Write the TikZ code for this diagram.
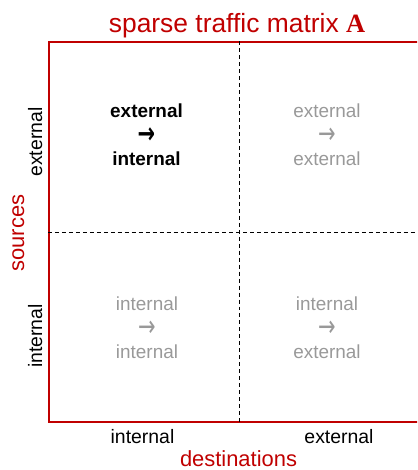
\documentclass[tikz,border=0pt]{standalone}
\usepackage{fontspec}
\usepackage{graphicx}
\setmainfont{Liberation Sans}
\newfontfamily\timesfont{Liberation Serif}
\newfontfamily\arrowfont{DejaVu Sans}
\definecolor{matred}{RGB}{192,0,0}
\definecolor{faded}{RGB}{153,153,153}
\newcommand{\goesto}{\raisebox{-2pt}{\scalebox{1}[1.4]{\arrowfont\fontsize{21}{24}\selectfont →}}}
\tikzstyle{frame}=[
    draw=matred,line width=2pt,inner sep=0pt,
    minimum width=380bp,minimum height=379bp]
\tikzstyle{divider}=[draw=black,line width=0.8pt,dash pattern=on 4pt off 3pt]
\tikzstyle{cell}=[align=center,inner sep=0pt,font=\fontsize{19}{24}\selectfont]
\tikzstyle{live}=[cell,font=\fontsize{19}{24}\selectfont\bfseries]
\tikzstyle{dead}=[cell,text=faded]
\tikzstyle{axis}=[inner sep=0pt,anchor=base,font=\fontsize{19.5}{24}\selectfont]
\tikzstyle{caption}=[inner sep=0pt,anchor=base,text=matred,font=\fontsize{22}{26}\selectfont]

\begin{document}
\begin{tikzpicture}[x=1bp,y=-1bp]

    \useasboundingbox (0,0) rectangle (417,470);
    \clip (0,0) rectangle (417,470);

    \node[frame] (A) at (239,232) {};
    \path[divider] (A.north) -- (A.south);
    \path[divider] (A.west)  -- (A.east);

    \node[caption,font=\fontsize{26.5}{30}\selectfont]
                        (title) at (237, 33) {sparse traffic matrix {\timesfont\bfseries A}};

    \node[live] (ext-int) at (146.5,135) {external\\\goesto\\internal};
    \node[dead] (ext-ext) at (327,  135) {external\\\goesto\\external};
    \node[dead] (int-int) at (147,  328) {internal\\\goesto\\internal};
    \node[dead] (int-ext) at (327,  328) {internal\\\goesto\\external};

    \node[axis]         (dst-int) at (142.5,443) {internal};
    \node[axis]         (dst-ext) at (339,  443) {external};
    \node[caption]      (dst)     at (238.5,466) {destinations};

    \node[axis,rotate=90]    (src-ext) at (42, 142) {external};
    \node[axis,rotate=90]    (src-int) at (42, 336) {internal};
    \node[caption,rotate=90] (src)     at (24, 233) {sources};

\end{tikzpicture}
\end{document}
